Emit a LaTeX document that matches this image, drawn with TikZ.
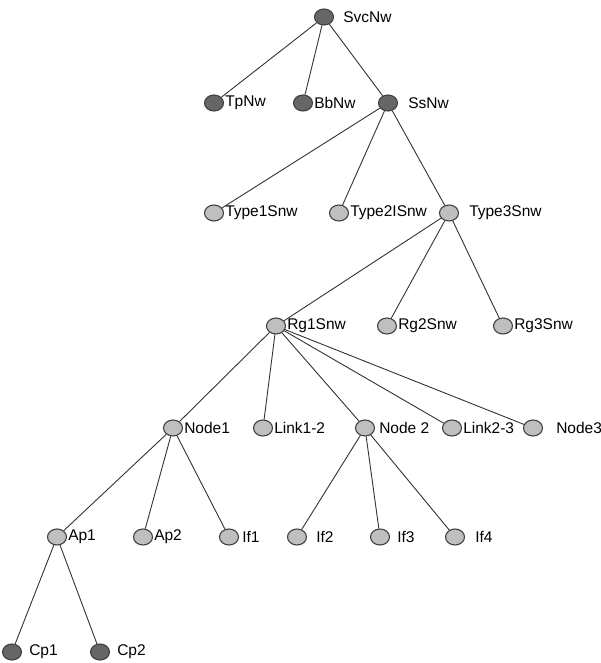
\documentclass[tikz,border=0pt]{standalone}
\usepackage{fontspec}
\setmainfont{Liberation Sans}
\usetikzlibrary{shapes.geometric}

\begin{document}
\begin{tikzpicture}[x=1pt, y=-1pt]
        \tikzstyle{vertex}=[ellipse,draw=black!75,line width=1.1pt,fill=black!25,minimum width=19pt,minimum height=16pt,inner sep=0pt]
        \tikzstyle{root}=[vertex,fill=black!60]
        \tikzstyle{every label}=[inner sep=1pt,font=\fontsize{15.5}{18}\selectfont]
        \tikzstyle{link}=[line width=0.9pt,black!80]

        \useasboundingbox (0,0) rectangle (600,663);

        \node[root, label={[label distance=8pt]right:SvcNw}] (SvcNw) at (324,17) {};
        \node[root, label=right:TpNw] (TpNw) at (214,103) {};
        \node[root, label=right:BbNw] (BbNw) at (303,103) {};
        \node[root, label={[label distance=9pt]right:SsNw}] (SsNw) at (388,103) {};

        \node[vertex, label=right:Type1Snw] (T1) at (214,213) {};
        \node[vertex, label=right:Type2ISnw] (T2) at (339,213) {};
        \node[vertex, label={[label distance=9pt]right:Type3Snw}] (T3) at (449,213) {};

        \node[vertex, label=right:Rg1Snw] (Rg1) at (276,326) {};
        \node[vertex, label=right:Rg2Snw] (Rg2) at (387,326) {};
        \node[vertex, label=right:Rg3Snw] (Rg3) at (503,326) {};

        \node[vertex, label=right:Node1] (N1) at (173,428) {};
        \node[vertex, label=right:Link1-2] (L12) at (263,428) {};
        \node[vertex, label={[label distance=3pt]right:Node 2}] (N2) at (365,428) {};
        \node[vertex, label=right:Link2-3] (L23) at (452,428) {};
        \node[vertex, label={[label distance=12pt]right:Node3}] (N3) at (533,428) {};

        \node[vertex, label=right:Ap1] (Ap1) at (57,537) {};
        \node[vertex, label=right:Ap2] (Ap2) at (143,537) {};
        \node[vertex, label={[label distance=2pt]right:If1}] (If1) at (229,537) {};
        \node[vertex, label={[label distance=8pt]right:If2}] (If2) at (297,537) {};
        \node[vertex, label={[label distance=6pt]right:If3}] (If3) at (380,537) {};
        \node[vertex, label={[label distance=9pt]right:If4}] (If4) at (455,537) {};

        \node[root, label={[label distance=6pt]right:Cp1}] (Cp1) at (12,652) {};
        \node[root, label={[label distance=6pt]right:Cp2}] (Cp2) at (100,652) {};

        \draw[link] (SvcNw) -- (TpNw);
        \draw[link] (SvcNw) -- (BbNw);
        \draw[link] (SvcNw) -- (SsNw);
        \draw[link] (SsNw) -- (T1);
        \draw[link] (SsNw) -- (T2);
        \draw[link] (SsNw) -- (T3);
        \draw[link] (T3) -- (Rg1);
        \draw[link] (T3) -- (Rg2);
        \draw[link] (T3) -- (Rg3);
        \draw[link] (Rg1) -- (N1);
        \draw[link] (Rg1) -- (L12);
        \draw[link] (Rg1) -- (N2);
        \draw[link] (Rg1) -- (L23);
        \draw[link] (Rg1) -- (N3);
        \draw[link] (N1) -- (Ap1);
        \draw[link] (N1) -- (Ap2);
        \draw[link] (N1) -- (If1);
        \draw[link] (N2) -- (If2);
        \draw[link] (N2) -- (If3);
        \draw[link] (N2) -- (If4);
        \draw[link] (Ap1) -- (Cp1);
        \draw[link] (Ap1) -- (Cp2);
    \end{tikzpicture}
\end{document}
